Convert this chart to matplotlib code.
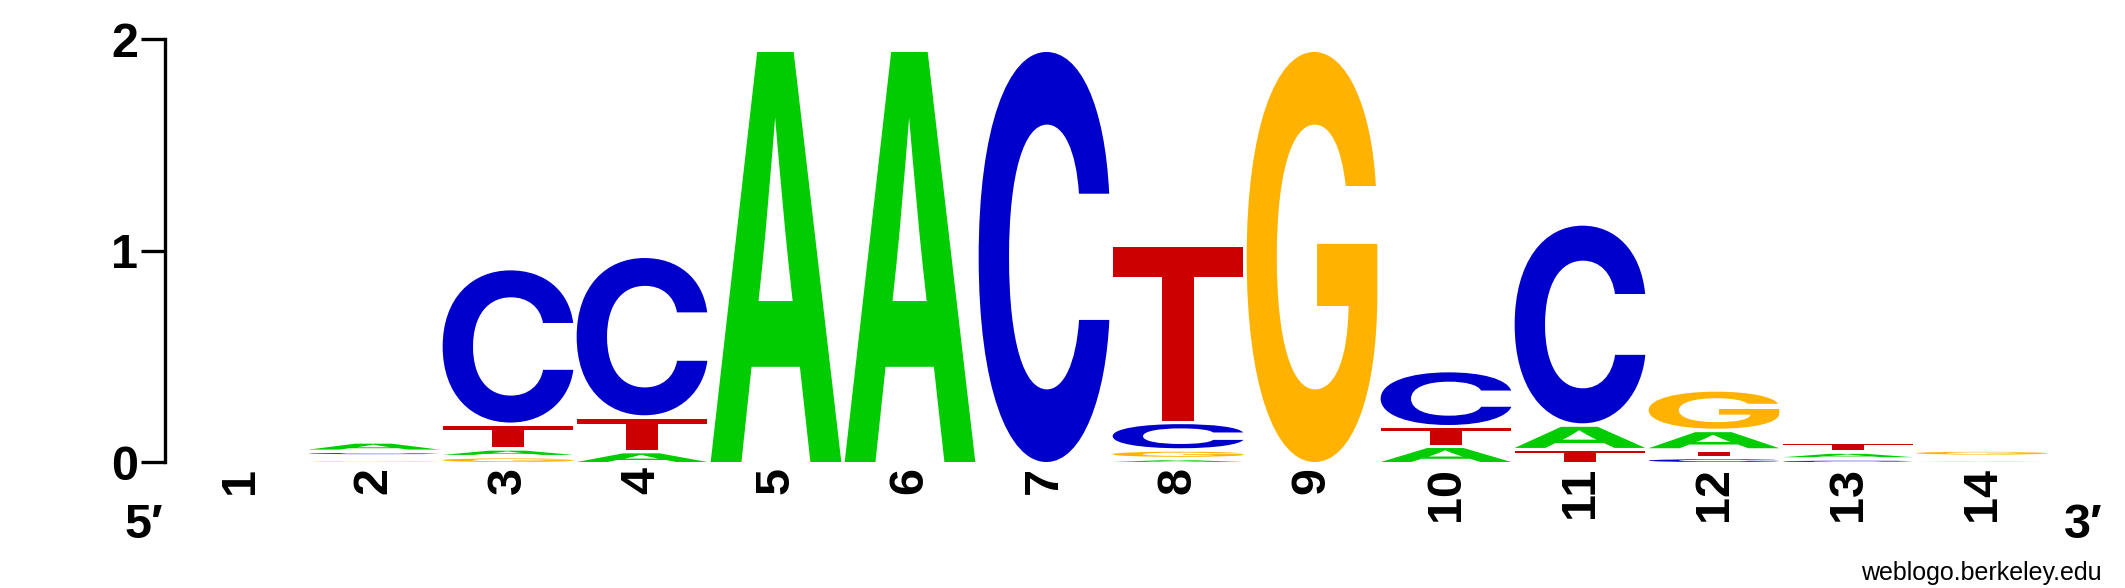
import matplotlib
matplotlib.use("Agg")
import matplotlib.pyplot as plt
from matplotlib.textpath import TextPath
from matplotlib.patches import PathPatch
from matplotlib.font_manager import FontProperties
from matplotlib.transforms import Affine2D

plt.rcParams['font.family'] = ['Liberation Sans', 'DejaVu Sans']

# information content (bits) of each base at each position
positions = list(range(1, 15))
A = [0, 0.028, 0.020, 0.041, 1.94, 1.94, 0, 0.008, 0, 0.066, 0.100, 0.076, 0.016, 0.001]
C = [0, 0.005, 0.720, 0.744, 0, 0, 1.94, 0.114, 0, 0.249, 0.935, 0.013, 0.006, 0]
G = [0, 0.002, 0.017, 0, 0, 0, 0, 0.024, 1.94, 0, 0, 0.175, 0, 0.013]
T = [0, 0.002, 0.100, 0.147, 0, 0, 0, 0.820, 0, 0.076, 0.050, 0.019, 0.028, 0.001]
y_ticks = [0, 1, 2]

colors = {'A': '#00CC00', 'C': '#0000CC', 'G': '#FFB300', 'T': '#CC0000'}
heights = {'A': A, 'C': C, 'G': G, 'T': T}

W, H = 2125, 588
fig = plt.figure(figsize=(W / 100, H / 100), dpi=100)

# axes placement in pixels
left_px, right_px, base_px, top_px = 165, 2060, 462, 39.3
first_px, step_px = 240, 134
ax = fig.add_axes([left_px / W, (H - base_px) / H,
                   (right_px - left_px) / W, (base_px - top_px) / H])
ax.set_ylim(0, 2)
ax.set_xlim(1 - (first_px - left_px) / step_px, 1 + (right_px - first_px) / step_px)

gap = 3.5 / ((base_px - top_px) / 2)   # small space between stacked letters
box_w = 0.975
fp = FontProperties(family='Inter', weight='bold')

glyphs = {}
for b in 'ACGT':
    tp = TextPath((0, 0), b, size=1, prop=fp)
    glyphs[b] = (tp, tp.get_extents())

for i, pos in enumerate(positions):
    col = sorted([(heights[b][i], b) for b in 'ACGT'], key=lambda t: t[0])
    y = 0.0
    for h, b in col:
        if h <= 0:
            continue
        tp, ext = glyphs[b]
        tr = (Affine2D()
              .translate(-ext.x0, -ext.y0)
              .scale(box_w / ext.width, h / ext.height)
              .translate(pos - box_w / 2, y))
        path = tr.transform_path(tp)
        ax.add_patch(PathPatch(path, facecolor=colors[b], edgecolor='none', lw=0))
        y += h + gap

for s in ['top', 'right', 'bottom']:
    ax.spines[s].set_visible(False)
ax.spines['left'].set_linewidth(2.4)

ax.set_yticks(y_ticks)
ax.set_yticklabels([str(v) for v in y_ticks], fontsize=35, fontweight='bold')
ax.tick_params(axis='y', length=17.3, width=2.4, pad=2)

ax.set_xticks(positions)
ax.set_xticklabels([str(p) for p in positions], rotation=90, fontsize=35, fontweight='bold')
ax.tick_params(axis='x', length=0, pad=3.6)

fig.text(144 / W, 1 - 538 / H, '5\u2032', ha='center', va='baseline', fontsize=35, fontweight='bold')
fig.text(2083 / W, 1 - 538 / H, '3\u2032', ha='center', va='baseline', fontsize=35, fontweight='bold')
fig.text(2102 / W, 1 - 580 / H, 'weblogo.berkeley.edu', ha='right', va='baseline', fontsize=18)

fig.savefig('out.png', dpi=100)
